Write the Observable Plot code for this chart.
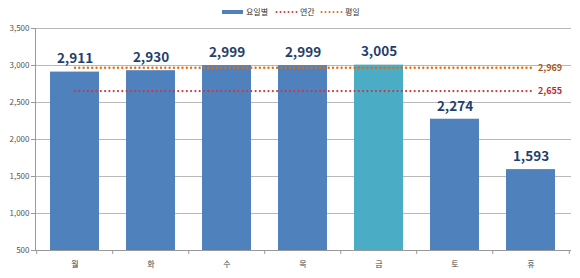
<!DOCTYPE html>
<html><head><meta charset="utf-8">
<script src="https://cdn.jsdelivr.net/npm/d3@7"></script>
<script src="https://cdn.jsdelivr.net/npm/@observablehq/plot@0.6"></script>
<style>
body{margin:0;background:#fff;font-family:"Noto Sans CJK KR","Noto Sans",sans-serif;}
#wrap{position:relative;width:580px;height:278px;}
#legend{position:relative;height:20px;width:580px;font-size:8px;color:#333;}
#legend .item{position:absolute;top:6px;display:flex;align-items:center;}
#legend svg{display:block;margin-right:2px;}
</style></head>
<body><div id="wrap"><div id="legend"></div><div id="chart"></div></div>
<script>
const days = ["월","화","수","목","금","토","휴"];
const counts = [2911, 2930, 2999, 2999, 3005, 2274, 1593];
const barColors = ["#4F81BD","#4F81BD","#4F81BD","#4F81BD","#4BACC6","#4F81BD","#4F81BD"];
const annualValue = 2655;
const weekdayValue = 2969;
const yTicks = [500,1000,1500,2000,2500,3000,3500];
const seriesNames = ["요일별","연간","평일"];

const data = days.map((d,i)=>({day:d, count:counts[i], color:barColors[i]}));
const fmt = d3.format(",");
const W = 580, mL = 35, mR = 9;
const pi = 0.35, po = 0.175;
const step = (W - mL - mR) / (days.length - pi + 2*po);

const red = "#D0363A", orange = "#E46C0A";

const plot = Plot.plot({
  width: W, height: 258,
  marginLeft: mL, marginRight: mR, marginTop: 8, marginBottom: 28,
  style: {fontFamily: '"Noto Sans CJK KR","Noto Sans",sans-serif', background: "#fff"},
  x: {domain: days, paddingInner: pi, paddingOuter: po, axis: null},
  y: {domain: [500, 3500], axis: null},
  marks: [
    Plot.gridY(yTicks, {stroke: "#b8b8b8", strokeOpacity: 1, strokeWidth: 1}),
    Plot.barY(data, {x: "day", y1: 500, y2: "count", fill: "color"}),
    Plot.lineY(days, {x: d=>d, y: ()=>weekdayValue, stroke: orange, strokeWidth: 2.4, strokeDasharray: "0,4.3", strokeLinecap: "round"}),
    Plot.lineY(days, {x: d=>d, y: ()=>annualValue, stroke: red, strokeWidth: 2.2, strokeDasharray: "0,4.3", strokeLinecap: "round"}),
    Plot.text([weekdayValue], {x: ()=>days[days.length-1], y: d=>d, text: d=>fmt(d), dx: 7, textAnchor: "start", fill: "#A65A1E", fontSize: 9, fontWeight: "bold"}),
    Plot.text([annualValue], {x: ()=>days[days.length-1], y: d=>d, text: d=>fmt(d), dx: 7, textAnchor: "start", fill: "#C0282D", fontSize: 9, fontWeight: "bold"}),
    Plot.text(data, {x: "day", y: "count", text: d=>fmt(d.count), dy: -13, fill: "#1F3F6E", fontSize: 13.5, fontWeight: "bold"}),
    Plot.frame({anchor: "left", stroke: "#999"}),
    Plot.ruleY([500], {stroke: "#999"}),
    Plot.ruleX(days, {x: d=>d, dx: -step/2, y1: 500, y2: 500, insetBottom: -4, stroke: "#999"}),
    Plot.ruleX([days[days.length-1]], {x: d=>d, dx: step/2, y1: 500, y2: 500, insetBottom: -4, stroke: "#999"}),
    Plot.axisY(yTicks, {tickSize: 4, tickPadding: 2, stroke: "#999", tickFormat: fmt, fontSize: 8, fill: "#555", label: null}),
    Plot.axisX(days, {tickSize: 0, tickPadding: 11, fontSize: 8, fill: "#444", label: null})
  ]
});
document.getElementById("chart").appendChild(plot);

// Legend
const lg = document.getElementById("legend");
function addItem(left, swatch, name){
  const it = document.createElement("div");
  it.className = "item"; it.style.left = left + "px";
  it.innerHTML = swatch + `<span>${name}</span>`;
  lg.appendChild(it);
}
addItem(222, `<svg width="22" height="6"><rect x="0" y="1" width="21" height="4" fill="#4F81BD"/></svg>`, seriesNames[0]);
addItem(275, `<svg width="23" height="6"><line x1="1.5" x2="22" y1="3" y2="3" stroke="${red}" stroke-width="2" stroke-dasharray="0,4" stroke-linecap="round"/></svg>`, seriesNames[1]);
addItem(320, `<svg width="23" height="6"><line x1="1.5" x2="22" y1="3" y2="3" stroke="${orange}" stroke-width="2" stroke-dasharray="0,4" stroke-linecap="round"/></svg>`, seriesNames[2]);
</script></body></html>
